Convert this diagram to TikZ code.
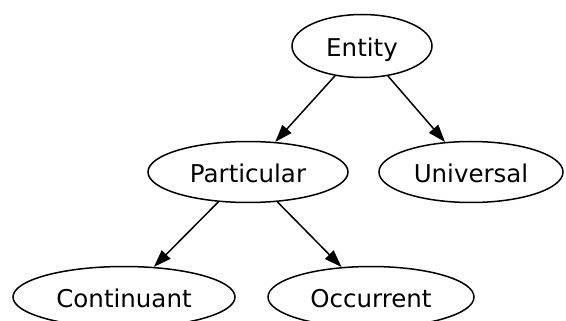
\documentclass[tikz,border=0pt]{standalone}
\usepackage{fontspec}
\setmainfont{DejaVu Sans}
\usetikzlibrary{shapes.geometric,arrows.meta}
\begin{document}
\begin{tikzpicture}[x=1pt,y=-1pt,
  ent/.style={draw, ellipse, line width=1.5pt, inner sep=0pt,
    font=\fontsize{24.5}{29}\selectfont, text height=21pt, text depth=0pt},
  conn/.style={line width=1.5pt, -{Triangle[length=17.5pt,width=12pt]}}]
\useasboundingbox (0,0) rectangle (566,321);
\node[ent, minimum width=140pt, minimum height=63pt] (entity) at (362,46) {Entity};
\node[ent, minimum width=200pt, minimum height=61pt] (particular) at (248,172) {Particular};
\node[ent, minimum width=184pt, minimum height=61pt] (universal) at (471,172) {Universal};
\node[ent, minimum width=222pt, minimum height=61pt] (continuant) at (124,297) {Continuant};
\node[ent, minimum width=206pt, minimum height=61pt] (occurrent) at (371,297) {Occurrent};
\draw[conn] (entity) -- (particular);
\draw[conn] (entity) -- (universal);
\draw[conn] (particular) -- (continuant);
\draw[conn] (particular) -- (occurrent);
\end{tikzpicture}
\end{document}
